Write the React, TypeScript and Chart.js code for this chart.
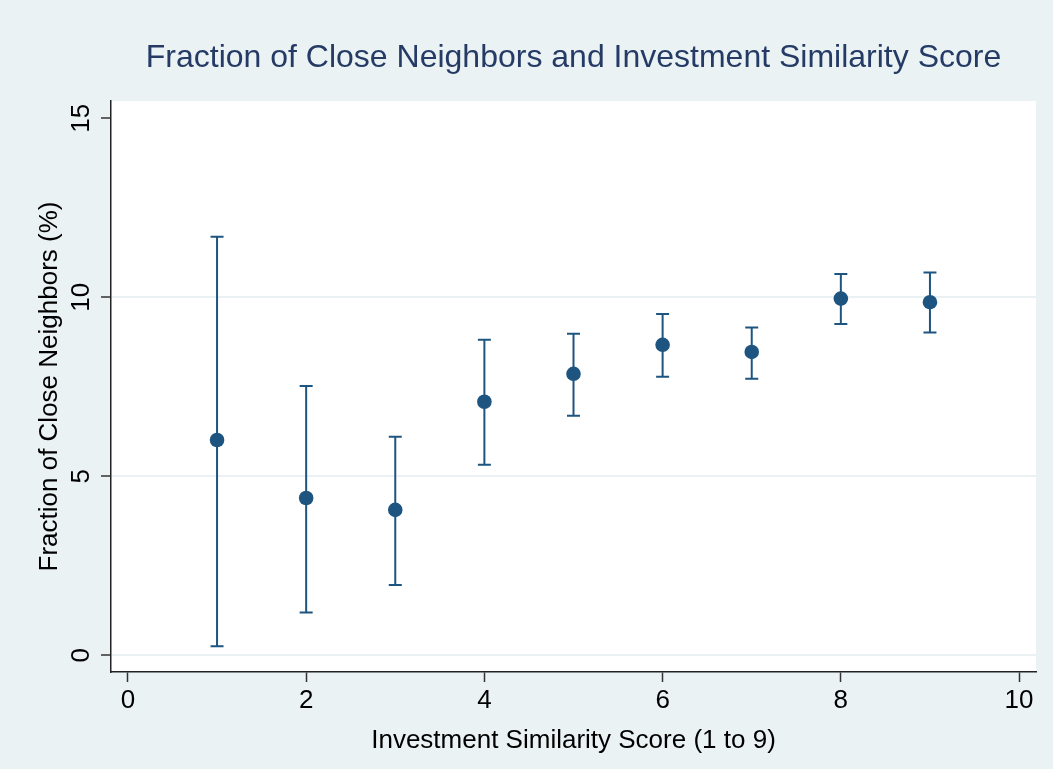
import React, { useEffect, useRef } from "react";
import { Chart, registerables } from "chart.js";

Chart.register(...registerables);

const titleText = "Fraction of Close Neighbors and Investment Similarity Score";
const xTitle = "Investment Similarity Score (1 to 9)";
const yTitle = "Fraction of Close Neighbors (%)";

const scores = [1, 2, 3, 4, 5, 6, 7, 8, 9];
const means = [6.01, 4.39, 4.06, 7.08, 7.86, 8.67, 8.47, 9.96, 9.86];
const lowerCI = [0.25, 1.19, 1.96, 5.32, 6.69, 7.78, 7.72, 9.25, 9.01];
const upperCI = [11.69, 7.52, 6.1, 8.81, 8.98, 9.53, 9.15, 10.65, 10.69];

const xTicks = [0, 2, 4, 6, 8, 10];
const yTicks = [0, 5, 10, 15];
const yGridValues = [0, 5, 10];

const BG = "#EAF2F3";
const NAVY = "#1E5580";
const TITLE_COLOR = "#253B66";
const FONT = '"Liberation Sans", Arial, Helvetica, sans-serif';

export default function App() {
  const ref = useRef<HTMLCanvasElement | null>(null);

  useEffect(() => {
    document.body.style.margin = "0";
    document.body.style.background = BG;
    const canvas = ref.current!;
    const decor = {
      id: "decor",
      beforeDraw(chart: any) {
        const { ctx, chartArea } = chart;
        ctx.save();
        ctx.fillStyle = BG;
        ctx.fillRect(0, 0, chart.width, chart.height);
        ctx.fillStyle = "#FFFFFF";
        ctx.fillRect(chartArea.left, chartArea.top, chartArea.right - chartArea.left, chartArea.bottom - chartArea.top);
        ctx.restore();
      },
      beforeDatasetsDraw(chart: any) {
        const { ctx } = chart;
        const xs = chart.scales.x;
        const ys = chart.scales.y;
        ctx.save();
        ctx.strokeStyle = NAVY;
        ctx.lineWidth = 2;
        scores.forEach((s, i) => {
          const px = xs.getPixelForValue(s);
          const lo = ys.getPixelForValue(lowerCI[i]);
          const hi = ys.getPixelForValue(upperCI[i]);
          ctx.beginPath();
          ctx.moveTo(px, lo);
          ctx.lineTo(px, hi);
          ctx.moveTo(px - 6.5, lo);
          ctx.lineTo(px + 6.5, lo);
          ctx.moveTo(px - 6.5, hi);
          ctx.lineTo(px + 6.5, hi);
          ctx.stroke();
        });
        ctx.restore();
      },
      afterDraw(chart: any) {
        const { ctx, chartArea } = chart;
        const xs = chart.scales.x;
        const ys = chart.scales.y;
        const cx = (chartArea.left + chartArea.right) / 2;
        const cy = (chartArea.top + chartArea.bottom) / 2;
        ctx.save();
        // title
        ctx.fillStyle = TITLE_COLOR;
        ctx.font = `32px ${FONT}`;
        ctx.textAlign = "center";
        ctx.textBaseline = "alphabetic";
        ctx.fillText(titleText, cx, 66.5);
        // x tick labels
        ctx.fillStyle = "#000000";
        ctx.font = `26px ${FONT}`;
        xTicks.forEach((v) => {
          ctx.fillText(String(v), xs.getPixelForValue(v), 708);
        });
        // x title
        ctx.fillText(xTitle, cx, 747.5);
        // y tick labels (rotated)
        yTicks.forEach((v) => {
          const py = ys.getPixelForValue(v);
          ctx.save();
          ctx.translate(88.5, py);
          ctx.rotate(-Math.PI / 2);
          ctx.textAlign = "center";
          ctx.textBaseline = "alphabetic";
          ctx.fillText(String(v), 0, 0);
          ctx.restore();
        });
        // y title
        ctx.save();
        ctx.translate(57, cy);
        ctx.rotate(-Math.PI / 2);
        ctx.textAlign = "center";
        ctx.textBaseline = "alphabetic";
        ctx.fillText(yTitle, 0, 0);
        ctx.restore();
        ctx.restore();
      },
    };

    const chart = new Chart(canvas, {
      type: "scatter",
      data: {
        datasets: [
          {
            label: "Mean",
            data: scores.map((s, i) => ({ x: s, y: means[i] })),
            backgroundColor: NAVY,
            borderColor: NAVY,
            borderWidth: 0,
            pointRadius: 7.3,
            pointHoverRadius: 7.3,
          },
        ],
      },
      options: {
        animation: false,
        responsive: false,
        devicePixelRatio: 1,
        layout: { padding: { top: 101, right: 17, bottom: 0, left: 0 } },
        plugins: {
          legend: { display: false },
          title: { display: false },
          tooltip: { enabled: false },
        },
        scales: {
          x: {
            type: "linear",
            min: -0.19,
            max: 10.19,
            afterBuildTicks: (scale: any) => {
              scale.ticks = xTicks.map((v) => ({ value: v }));
            },
            afterFit: (scale: any) => {
              scale.height = 97;
            },
            ticks: { display: false },
            grid: {
              display: true,
              drawOnChartArea: false,
              drawTicks: true,
              tickLength: 10,
              tickWidth: 1.5,
              tickColor: "#333333",
            },
            border: { display: true, color: "#222222", width: 1.5 },
          },
          y: {
            type: "linear",
            min: -0.47,
            max: 15.48,
            afterBuildTicks: (scale: any) => {
              scale.ticks = yTicks.map((v) => ({ value: v }));
            },
            afterFit: (scale: any) => {
              scale.width = 111;
            },
            ticks: { display: false },
            grid: {
              display: true,
              drawOnChartArea: true,
              drawTicks: true,
              tickLength: 10,
              lineWidth: 2,
              color: (c: any) =>
                c.tick && yGridValues.includes(c.tick.value) ? "#E9F1F2" : "rgba(0,0,0,0)",
              tickWidth: 1.5,
              tickColor: "#333333",
            },
            border: { display: true, color: "#222222", width: 1.5 },
          },
        },
      },
      plugins: [decor],
    });
    return () => chart.destroy();
  }, []);

  return (
    <canvas
      ref={ref}
      width={1053}
      height={769}
      style={{ display: "block", width: "1053px", height: "769px" }}
    />
  );
}
